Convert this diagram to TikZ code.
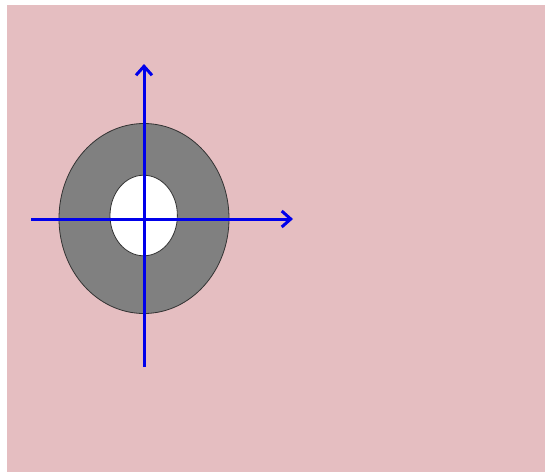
\documentclass[tikz,border=0pt]{standalone}
\usetikzlibrary{arrows.meta}
\definecolor{bgpink}{RGB}{229,190,193}
\definecolor{ringgray}{RGB}{128,128,128}
\tikzset{
  axisline/.style={draw={rgb,255:red,0;green,0;blue,235}, line width=3pt, -{Straight Barb[length=9pt,width=16pt,line width=3pt]}},
  ringshape/.style={draw=black!80, line width=0.8pt, fill=ringgray},
  holeshape/.style={draw=black!80, line width=0.8pt, fill=white}
}
\begin{document}
\begin{tikzpicture}[x=1pt,y=-1pt]
  \useasboundingbox (0,0) rectangle (547,475);
  \fill[bgpink] (7,5) rectangle (545,472);
  \coordinate (c) at (144,219);
  \draw[ringshape] (144,218.5) ellipse [x radius=85, y radius=95];
  \draw[holeshape] (143.7,215.5) ellipse [x radius=33.7, y radius=40.3];
  \coordinate (xs) at (31,219);
  \coordinate (xe) at (293,219);
  \coordinate (ys) at (144,367);
  \coordinate (ye) at (144,64);
  \draw[axisline] (xs) -- (xe);
  \draw[axisline] (ys) -- (ye);
\end{tikzpicture}
\end{document}
